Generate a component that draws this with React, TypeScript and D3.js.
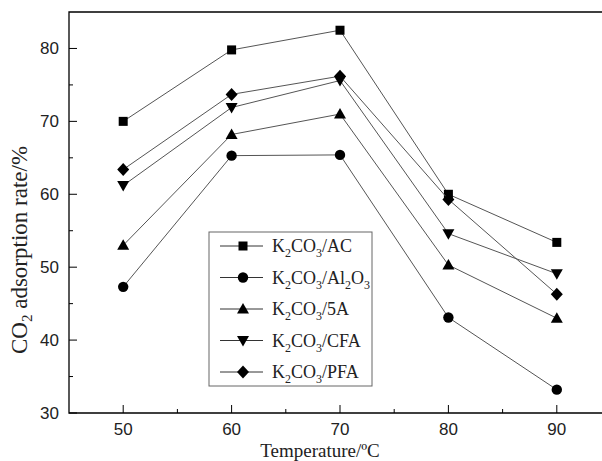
import * as d3 from "d3";
import React from "react";

const temperatures = [50, 60, 70, 80, 90];
const seriesNames = ["AC", "Al2O3", "5A", "CFA", "PFA"];
const valuesAC = [70.0, 79.8, 82.5, 60.0, 53.4];
const valuesAl2O3 = [47.3, 65.3, 65.4, 43.1, 33.2];
const values5A = [53.0, 68.2, 71.0, 50.3, 43.0];
const valuesCFA = [61.2, 71.9, 75.6, 54.6, 49.1];
const valuesPFA = [63.4, 73.7, 76.2, 59.3, 46.3];
const xTicks = [50, 60, 70, 80, 90];
const xMinorTicks = [55, 65, 75, 85];
const yTicks = [30, 40, 50, 60, 70, 80];
const yMinorTicks = [35, 45, 55, 65, 75];

const W = 602;
const H = 461;
const left = 69;
const top = 12;
const bottom = 413;
const right = 611;

const x = d3.scaleLinear().domain([45, 95]).range([left, right]);
const y = d3.scaleLinear().domain([30, 85]).range([bottom, top]);

const serif = "'Liberation Serif', 'Times New Roman', serif";
const sans = "'Liberation Sans', Arial, sans-serif";

// marker shapes, centred at 0,0
function marker(kind: string) {
  switch (kind) {
    case "AC":
      return <rect x={-4.5} y={-4.5} width={9} height={9} fill="#000" />;
    case "Al2O3":
      return <circle r={5.2} fill="#000" />;
    case "5A":
      return <path d="M0,-6L6,4.5L-6,4.5Z" fill="#000" />;
    case "CFA":
      return <path d="M0,6L6,-4.5L-6,-4.5Z" fill="#000" />;
    default:
      return <path d="M0,-6.5L6,0L0,6.5L-6,0Z" fill="#000" />;
  }
}

// split "K2CO3/Al2O3" into normal / subscript pieces (digits after a letter are subscripts)
function labelParts(name: string) {
  const full = "K2CO3/" + name;
  const parts: { t: string; sub: boolean }[] = [];
  let prev = "";
  for (const ch of full) {
    const sub = /[0-9]/.test(ch) && /[A-Za-z]/.test(prev);
    const last = parts[parts.length - 1];
    if (last && last.sub === sub) last.t += ch;
    else parts.push({ t: ch, sub });
    prev = ch;
  }
  return parts;
}

export default function App() {
  const allSeries = [valuesAC, valuesAl2O3, values5A, valuesCFA, valuesPFA];
  const line = d3
    .line<number>()
    .x((_, i) => x(temperatures[i]))
    .y((v) => y(v));

  return (
    <svg
      width={W}
      height={H}
      style={{ position: "absolute", left: 0, top: 0, overflow: "hidden", display: "block" }}
    >
      <rect width={W} height={H} fill="#fff" />
      {/* frame (right side is cut off by the picture edge) */}
      <path
        d={`M${W},${top}H${left}V${bottom}H${W}`}
        fill="none"
        stroke="#000"
        strokeWidth={1.3}
      />
      {/* x ticks */}
      {xTicks.map((t) => (
        <g key={"xt" + t}>
          <line x1={x(t)} x2={x(t)} y1={bottom} y2={bottom - 8} stroke="#000" />
          <text x={x(t)} y={435} textAnchor="middle" fontFamily={sans} fontSize={17} fill="#222">
            {t}
          </text>
        </g>
      ))}
      {xMinorTicks.map((t) => (
        <line key={"xm" + t} x1={x(t)} x2={x(t)} y1={bottom} y2={bottom - 4} stroke="#000" />
      ))}
      {/* y ticks */}
      {yTicks.map((t) => (
        <g key={"yt" + t}>
          <line x1={left} x2={left + 8} y1={y(t)} y2={y(t)} stroke="#000" />
          <text x={59} y={y(t) + 6} textAnchor="end" fontFamily={sans} fontSize={17} fill="#222">
            {t}
          </text>
        </g>
      ))}
      {yMinorTicks.map((t) => (
        <line key={"ym" + t} x1={left} x2={left + 4} y1={y(t)} y2={y(t)} stroke="#000" />
      ))}
      {/* axis titles */}
      <text x={320} y={457} textAnchor="middle" fontFamily={serif} fontSize={19} fill="#222">
        Temperature/ºC
      </text>
      <text
        transform="translate(27,250) rotate(-90)"
        textAnchor="middle"
        fontFamily={serif}
        fontSize={23}
        fill="#222"
      >
        <tspan>CO</tspan>
        <tspan dy={5} fontSize={15}>2</tspan>
        <tspan dy={-5}> adsorption rate/%</tspan>
      </text>
      {/* series */}
      {allSeries.map((vals, si) => (
        <g key={"s" + si}>
          <path d={line(vals) ?? ""} fill="none" stroke="#555" strokeWidth={1} />
          {vals.map((v, i) => (
            <g key={i} transform={`translate(${x(temperatures[i])},${y(v)})`}>
              {marker(seriesNames[si])}
            </g>
          ))}
        </g>
      ))}
      {/* legend */}
      <g>
        <rect x={209} y={232} width={163} height={154} fill="#fff" stroke="#666" strokeWidth={1} />
        {seriesNames.map((name, i) => {
          const ly = 246 + i * 31.5;
          const parts = labelParts(name);
          return (
            <g key={"lg" + name}>
              <line x1={220} x2={263} y1={ly} y2={ly} stroke="#333" strokeWidth={1} />
              <g transform={`translate(243,${ly})`}>{marker(name)}</g>
              <text x={272} y={ly + 6} fontFamily={serif} fontSize={18} fill="#222">
                {parts.map((p, k) => {
                  const prevSub = k > 0 && parts[k - 1].sub;
                  const dy = p.sub ? 5 : prevSub ? -5 : 0;
                  return (
                    <tspan key={k} dy={dy} fontSize={p.sub ? 12 : 18}>
                      {p.t}
                    </tspan>
                  );
                })}
              </text>
            </g>
          );
        })}
      </g>
    </svg>
  );
}
